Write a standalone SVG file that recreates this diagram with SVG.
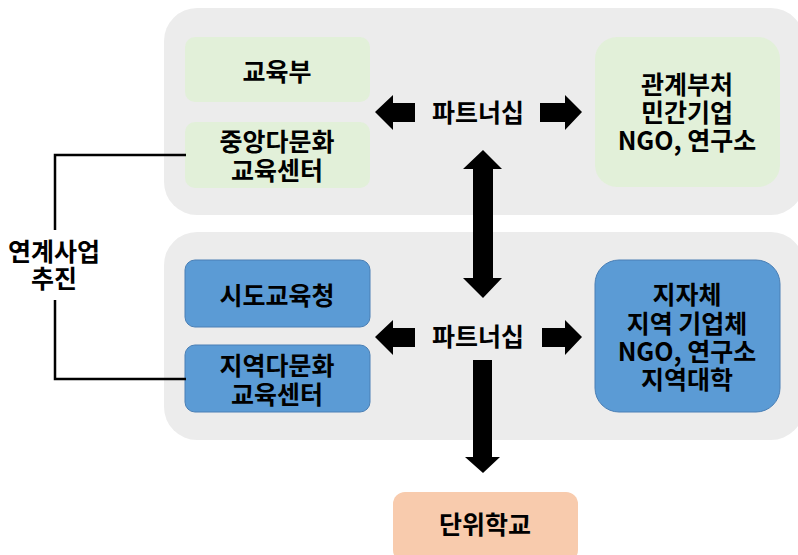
<svg xmlns="http://www.w3.org/2000/svg" width="798" height="555" viewBox="0 0 798 555">
<style>
text{font-family:"Noto Sans CJK KR","Noto Sans",sans-serif;font-weight:bold;font-size:25px;fill:#000;text-anchor:middle;dominant-baseline:central}
.panel{fill:#ECECEC}
.green{fill:#E2F0D9}
.blue{fill:#5B9BD5;stroke:#4A7FB5;stroke-width:1}
.peach{fill:#F8CBAD}
.arrow{fill:#000}
.link{fill:none;stroke:#000;stroke-width:2.5}
</style>
<rect class="panel" x="164" y="8" width="640" height="207" rx="33"/>
<rect class="panel" x="164" y="232" width="640" height="208" rx="33"/>
<g id="moe"><rect class="green" x="185" y="37" width="185" height="65" rx="10"/><text x="277" y="70">교육부</text></g>
<g id="central-center"><rect class="green" x="185" y="122" width="185" height="66" rx="10"/><text x="277" y="140">중앙다문화</text><text x="277" y="169">교육센터</text></g>
<g id="ministries"><rect class="green" x="595" y="37" width="185" height="150" rx="22"/><text x="687" y="83">관계부처</text><text x="687" y="111">민간기업</text><text x="687" y="139">NGO, 연구소</text></g>
<g id="office"><rect class="blue" x="185" y="260" width="185" height="67" rx="10"/><text x="277" y="294">시도교육청</text></g>
<g id="local-center"><rect class="blue" x="185" y="345" width="185" height="67" rx="10"/><text x="277" y="364">지역다문화</text><text x="277" y="393">교육센터</text></g>
<g id="local"><rect class="blue" x="595" y="260" width="185" height="152" rx="24"/><text x="687" y="293">지자체</text><text x="687" y="322">지역 기업체</text><text x="687" y="350">NGO, 연구소</text><text x="687" y="378">지역대학</text></g>
<g id="school"><rect class="peach" x="393" y="492" width="185" height="70" rx="12"/><text x="485" y="523">단위학교</text></g>
<g id="label-link"><text x="54" y="250">연계사업</text><text x="54" y="277">추진</text></g>
<g id="connectors">
<path class="link" d="M186 155H55V230M55 300V379H186"/>
<text x="478" y="111">파트너십</text>
<text x="478" y="335">파트너십</text>
<polygon class="arrow" points="375,112 393,95 393,103 415,103 415,122 393,122 393,130"/>
<polygon class="arrow" points="582,112 565,95 565,103 540,103 540,122 565,122 565,130"/>
<polygon class="arrow" points="375,337 393,320 393,328 415,328 415,347 393,347 393,355"/>
<polygon class="arrow" points="582,337 565,320 565,328 542,328 542,347 565,347 565,355"/>
<polygon class="arrow" points="483,150 502,169 493,169 493,278 502,278 483,298 463,278 473,278 473,169 463,169"/>
<polygon class="arrow" points="473,360 492,360 492,457 500,457 483,473 465,457 473,457"/>
</g>
</svg>
